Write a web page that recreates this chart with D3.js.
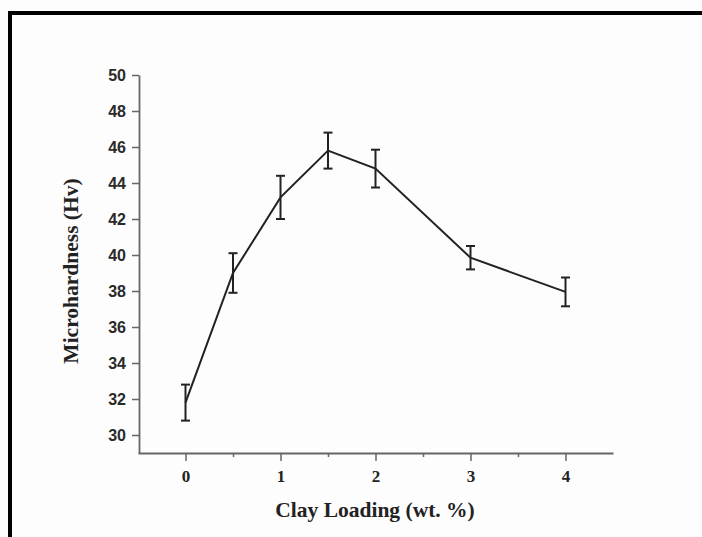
<!DOCTYPE html>
<html><head><meta charset="utf-8">
<script src="https://cdn.jsdelivr.net/npm/d3@7"></script>
<style>body{margin:0;background:#fdfdfd;}svg{display:block;}</style>
</head><body>
<svg id="c" width="702" height="537"></svg>
<script>
const clayLoading = [0, 0.5, 1, 1.5, 2, 3, 4];
const microhardness = [31.8, 39.0, 43.2, 45.8, 44.8, 39.85, 37.95];
const errorValues = [1.0, 1.1, 1.2, 1.0, 1.05, 0.65, 0.8];
const xTicks = [0, 1, 2, 3, 4];
const xMinorTicks = [0.5, 1.5, 2.5, 3.5];
const yTicks = [30, 32, 34, 36, 38, 40, 42, 44, 46, 48, 50];

const svg = d3.select("#c");
svg.append("rect").attr("width",702).attr("height",537).attr("fill","#fdfdfd");
// partial frame (top and left)
svg.append("path").attr("d","M10,537 V13 H702").attr("fill","none").attr("stroke","#000").attr("stroke-width",4);

const x = d3.scaleLinear().domain([-0.5, 4.5]).range([138, 613]);
const y = d3.scaleLinear().domain([29, 50]).range([453, 75]);
const axisColor = "#666";

// x axis
const gx = svg.append("g").attr("transform","translate(0,453)")
  .call(d3.axisBottom(x).tickValues(xTicks).tickFormat(d3.format("d")).tickSize(8).tickSizeOuter(0));
gx.selectAll(".tick text").attr("y",13).attr("dy","0.95em").attr("font-family","Liberation Serif").attr("font-weight","bold").attr("font-size",17).attr("fill","#222");
const gxm = svg.append("g").attr("transform","translate(0,453)")
  .call(d3.axisBottom(x).tickValues(xMinorTicks).tickFormat("").tickSize(4).tickSizeOuter(0));
gxm.select(".domain").remove();

// y axis
const gy = svg.append("g").attr("transform","translate(139,0)")
  .call(d3.axisLeft(y).tickValues(yTicks).tickFormat(d3.format("d")).tickSize(7).tickSizeOuter(0));
gy.selectAll(".tick text").attr("x",-13).attr("font-family","Liberation Sans").attr("font-weight","bold").attr("font-size",16).attr("fill","#2a2a2a");

[gx, gxm, gy].forEach(g=>{
  g.selectAll("path.domain").attr("stroke",axisColor).attr("stroke-width",1.8);
  g.selectAll(".tick line").attr("stroke",axisColor).attr("stroke-width",1.5);
});

// line
const pts = clayLoading.map((d,i)=>({x:d, y:microhardness[i], e:errorValues[i]}));
svg.append("path").datum(pts)
  .attr("d", d3.line().x(d=>x(d.x)).y(d=>y(d.y)))
  .attr("fill","none").attr("stroke","#222").attr("stroke-width",2);

// error bars
const eb = svg.append("g").attr("stroke","#222").attr("stroke-width",2);
pts.forEach(d=>{
  eb.append("line").attr("x1",x(d.x)).attr("x2",x(d.x)).attr("y1",y(d.y+d.e)).attr("y2",y(d.y-d.e));
  eb.append("line").attr("x1",x(d.x)-4.5).attr("x2",x(d.x)+4.5).attr("y1",y(d.y+d.e)).attr("y2",y(d.y+d.e));
  eb.append("line").attr("x1",x(d.x)-4.5).attr("x2",x(d.x)+4.5).attr("y1",y(d.y-d.e)).attr("y2",y(d.y-d.e));
});

// titles
svg.append("text").attr("x",375).attr("y",517).attr("text-anchor","middle")
  .attr("font-family","Liberation Serif").attr("font-weight","bold").attr("font-size",21.5).attr("fill","#222")
  .text("Clay Loading (wt. %)");
svg.append("text").attr("transform","translate(78,271) rotate(-90)").attr("text-anchor","middle")
  .attr("font-family","Liberation Serif").attr("font-weight","bold").attr("font-size",21.5).attr("fill","#222")
  .text("Microhardness (Hv)");
</script>
</body></html>
